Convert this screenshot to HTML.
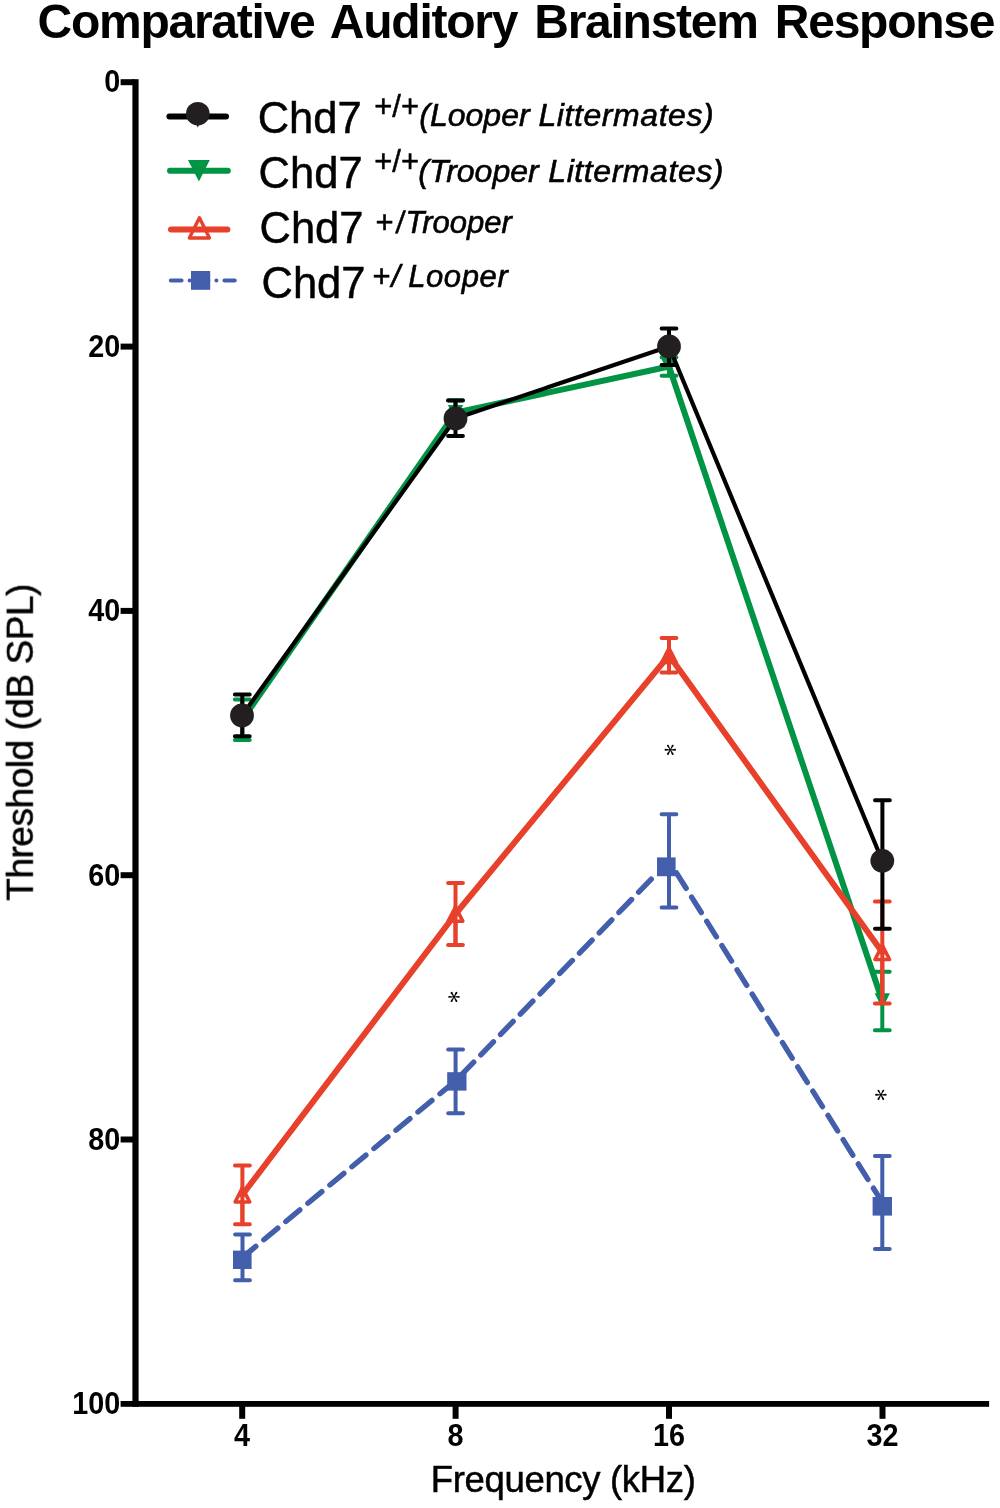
<!DOCTYPE html>
<html>
<head>
<meta charset="utf-8">
<title>Comparative Auditory Brainstem Response</title>
<style>
  html, body { margin: 0; padding: 0; background: #ffffff; }
  body { width: 1000px; height: 1508px; overflow: hidden; font-family: "Liberation Sans", sans-serif; }
  svg { display: block; position: absolute; left: 0; top: 0; }
  text { font-family: "Liberation Sans", sans-serif; fill: #000; }
  .b { font-weight: bold; }
  .i { font-style: italic; stroke: #000; stroke-width: 0.6px; }
  .r { stroke: #000; stroke-width: 0.5px; }
  .eb { fill: none; stroke-width: 4; stroke-linecap: round; }
</style>
</head>
<body>
<svg width="1000" height="1508" viewBox="0 0 1000 1508">
  <rect x="0" y="0" width="1000" height="1508" fill="#ffffff"/>
  <g opacity="0.999">

  <!-- Title -->
  <text class="b" x="37.5" y="37.6" font-size="48" letter-spacing="-1.25" word-spacing="5">Comparative Auditory Brainstem Response</text>

  <!-- Axes -->
  <g fill="#000">
    <rect x="132.4" y="79.2" width="6.2" height="1327.6"/>
    <rect x="120.6" y="1401" width="868.5" height="5.8"/>
    <!-- y ticks -->
    <rect x="120.6" y="79.2" width="14" height="6"/>
    <rect x="120.6" y="343.6" width="14" height="6"/>
    <rect x="120.6" y="607.9" width="14" height="6"/>
    <rect x="120.6" y="872.2" width="14" height="6"/>
    <rect x="120.6" y="1136.5" width="14" height="6"/>
    <!-- x ticks -->
    <rect x="239.2" y="1403" width="6" height="15.8"/>
    <rect x="452.6" y="1403" width="6" height="15.8"/>
    <rect x="666" y="1403" width="6" height="15.8"/>
    <rect x="879.5" y="1403" width="6" height="15.8"/>
  </g>

  <!-- Tick labels -->
  <g class="b" font-size="30.5" text-anchor="end">
    <text x="120.2" y="92.2" textLength="16.00" lengthAdjust="spacingAndGlyphs">0</text>
    <text x="120.2" y="356.9" textLength="32.00" lengthAdjust="spacingAndGlyphs">20</text>
    <text x="120.2" y="621.2" textLength="32.00" lengthAdjust="spacingAndGlyphs">40</text>
    <text x="120.2" y="885.5" textLength="32.00" lengthAdjust="spacingAndGlyphs">60</text>
    <text x="120.2" y="1149.8" textLength="32.00" lengthAdjust="spacingAndGlyphs">80</text>
    <text x="120.2" y="1414.1" textLength="48.00" lengthAdjust="spacingAndGlyphs">100</text>
  </g>
  <g class="b" font-size="30.5" text-anchor="middle">
    <text x="242" y="1445.8" textLength="16.00" lengthAdjust="spacingAndGlyphs">4</text>
    <text x="455.5" y="1445.8" textLength="16.00" lengthAdjust="spacingAndGlyphs">8</text>
    <text x="669" y="1445.8" textLength="32.00" lengthAdjust="spacingAndGlyphs">16</text>
    <text x="882.5" y="1445.8" textLength="32.00" lengthAdjust="spacingAndGlyphs">32</text>
  </g>

  <!-- Axis titles -->
  <text class="r" x="430.8" y="1492.3" font-size="36.5" letter-spacing="-0.34">Frequency (kHz)</text>
  <text class="r" transform="translate(32.8,900.7) rotate(-90)" font-size="37" letter-spacing="-0.46">Threshold (dB SPL)</text>

  <!-- ================= Series ================= -->
  <!-- Blue (dashed) -->
  <g stroke="#435eab" fill="#435eab">
    <g class="eb">
      <path d="M242.5 1234.6V1280.2M235.1 1234.6H249.9M235.1 1280.2H249.9"/>
      <path d="M455.6 1049.4V1113.2M448.2 1049.4H463M448.2 1113.2H463"/>
      <path d="M669 814.2V907.4M661.6 814.2H676.4M661.6 907.4H676.4"/>
      <path d="M882.3 1155.9V1249M874.9 1155.9H889.7M874.9 1249H889.7"/>
    </g>
    <g fill="none" stroke-width="5.4" stroke-linecap="round">
      <line x1="242.5" y1="1257.4" x2="455.6" y2="1080.8" stroke-dasharray="18.2 10.4" stroke-dashoffset="0.9"/>
      <line x1="455.6" y1="1080.8" x2="652.7" y2="877.7" stroke-dasharray="18.1 10.23" stroke-dashoffset="-7.9"/>
      <line x1="669" y1="860.9" x2="882.3" y2="1202.4" stroke-dasharray="18.2 10.4" stroke-dashoffset="-14.1"/>
    </g>
    <g stroke="none">
      <rect x="233" y="1250.6" width="18.6" height="18.4"/>
      <rect x="447.2" y="1072.2" width="19.3" height="18.4"/>
      <rect x="657" y="857.4" width="18.6" height="18.8"/>
      <rect x="872.6" y="1197" width="19.4" height="18.6"/>
    </g>
  </g>

  <!-- Green -->
  <g stroke="#009444" fill="#009444">
    <g class="eb">
      <path d="M242.3 699.5V740M234.9 699.5H249.7M234.9 740H249.7"/>
      <path d="M455.5 400.2V425.8M448.1 400.2H462.9M448.1 425.8H462.9"/>
      <path d="M669 357.3V375.7M661.6 357.3H676.4M661.6 375.7H676.4"/>
      <path d="M882.3 971.7V1030.3M874.9 971.7H889.7M874.9 1030.3H889.7"/>
    </g>
    <polyline points="242.3,719.75 455.5,412.65 669,366.5 882.3,1001" fill="none" stroke-width="6" stroke-linecap="round" stroke-linejoin="round"/>
    <g stroke="none">
      <path d="M234.65 712.1h15.3l-7.65 15.3z"/>
      <path d="M447.85 405h15.3l-7.65 15.3z"/>
      <path d="M661.35 358.85h15.3l-7.65 15.3z"/>
      <path d="M874.65 993.35h15.3l-7.65 15.3z"/>
    </g>
  </g>

  <!-- Red -->
  <g stroke="#e8412b" fill="none">
    <g class="eb">
      <path d="M242.4 1165.4V1224.2M235 1165.4H249.8M235 1224.2H249.8"/>
      <path d="M455.5 883V945M448.1 883H462.9M448.1 945H462.9"/>
      <path d="M669 638V672.6M661.6 638H676.4M661.6 672.6H676.4"/>
      <path d="M882.3 901.6V1003.4M874.9 901.6H889.7M874.9 1003.4H889.7"/>
    </g>
    <g stroke-width="3.6" stroke-linejoin="round" fill="#fff">
      <path d="M242.4 1187.90l7.3 14.1h-14.6z"/>
      <path d="M455.5 907.10l7.3 14.1h-14.6z"/>
      <path d="M669 648.40l7.3 14.1h-14.6z"/>
      <path d="M882.3 945.40l7.3 14.1h-14.6z"/>
    </g>
    <g class="eb">
      <path d="M242.4 1188V1224.2"/>
      <path d="M455.5 907.2V945"/>
      <path d="M669 648.5V672.6"/>
      <path d="M882.3 945.5V1003.4"/>
    </g>
    <polyline points="242.4,1194.8 455.5,914 669,655.3 882.3,952.3" stroke-width="6" stroke-linecap="round" stroke-linejoin="round"/>
  </g>

  <!-- Black -->
  <g stroke="#000" fill="#231f20">
    <g class="eb" stroke-width="4.2">
      <path d="M242.3 694.5V736.2M234.9 694.5H249.7M234.9 736.2H249.7"/>
      <path d="M455.5 400.5V436M448.1 400.5H462.9M448.1 436H462.9"/>
      <path d="M669 328.5V365M661.6 328.5H676.4M661.6 365H676.4"/>
      <path d="M882.4 800.2V928.8M875 800.2H889.8M875 928.8H889.8"/>
    </g>
    <polyline points="242,715.5 455.5,418.5 669,346.5 882.3,860.8" fill="none" stroke-width="4.2" stroke-linecap="round" stroke-linejoin="round"/>
    <g stroke="none">
      <circle cx="242" cy="715.5" r="11.9"/>
      <circle cx="455.5" cy="418.5" r="11.9"/>
      <circle cx="669" cy="346.5" r="11.9"/>
      <circle cx="882.3" cy="860.8" r="11.9"/>
    </g>
  </g>

  <!-- Asterisks -->
  <g fill="#000">
    <g transform="translate(454 996.9)"><path d="M0.5 -0.35L4.8 -0.95A0.95 0.95 0 0 1 4.8 0.95L0.5 0.35Z" transform="rotate(0)"/><path d="M0.5 -0.35L4.8 -0.95A0.95 0.95 0 0 1 4.8 0.95L0.5 0.35Z" transform="rotate(60)"/><path d="M0.5 -0.35L4.8 -0.95A0.95 0.95 0 0 1 4.8 0.95L0.5 0.35Z" transform="rotate(120)"/><path d="M0.5 -0.35L4.8 -0.95A0.95 0.95 0 0 1 4.8 0.95L0.5 0.35Z" transform="rotate(180)"/><path d="M0.5 -0.35L4.8 -0.95A0.95 0.95 0 0 1 4.8 0.95L0.5 0.35Z" transform="rotate(240)"/><path d="M0.5 -0.35L4.8 -0.95A0.95 0.95 0 0 1 4.8 0.95L0.5 0.35Z" transform="rotate(300)"/><circle r="1.15"/></g>
    <g transform="translate(670.3 749.8)"><path d="M0.5 -0.35L4.8 -0.95A0.95 0.95 0 0 1 4.8 0.95L0.5 0.35Z" transform="rotate(0)"/><path d="M0.5 -0.35L4.8 -0.95A0.95 0.95 0 0 1 4.8 0.95L0.5 0.35Z" transform="rotate(60)"/><path d="M0.5 -0.35L4.8 -0.95A0.95 0.95 0 0 1 4.8 0.95L0.5 0.35Z" transform="rotate(120)"/><path d="M0.5 -0.35L4.8 -0.95A0.95 0.95 0 0 1 4.8 0.95L0.5 0.35Z" transform="rotate(180)"/><path d="M0.5 -0.35L4.8 -0.95A0.95 0.95 0 0 1 4.8 0.95L0.5 0.35Z" transform="rotate(240)"/><path d="M0.5 -0.35L4.8 -0.95A0.95 0.95 0 0 1 4.8 0.95L0.5 0.35Z" transform="rotate(300)"/><circle r="1.15"/></g>
    <g transform="translate(880.85 1094.8)"><path d="M0.5 -0.35L4.8 -0.95A0.95 0.95 0 0 1 4.8 0.95L0.5 0.35Z" transform="rotate(0)"/><path d="M0.5 -0.35L4.8 -0.95A0.95 0.95 0 0 1 4.8 0.95L0.5 0.35Z" transform="rotate(60)"/><path d="M0.5 -0.35L4.8 -0.95A0.95 0.95 0 0 1 4.8 0.95L0.5 0.35Z" transform="rotate(120)"/><path d="M0.5 -0.35L4.8 -0.95A0.95 0.95 0 0 1 4.8 0.95L0.5 0.35Z" transform="rotate(180)"/><path d="M0.5 -0.35L4.8 -0.95A0.95 0.95 0 0 1 4.8 0.95L0.5 0.35Z" transform="rotate(240)"/><path d="M0.5 -0.35L4.8 -0.95A0.95 0.95 0 0 1 4.8 0.95L0.5 0.35Z" transform="rotate(300)"/><circle r="1.15"/></g>
  </g>

  <!-- ================= Legend ================= -->
  <!-- row 1 -->
  <line x1="169.4" y1="116.6" x2="226" y2="116.6" stroke="#000" stroke-width="6" stroke-linecap="round"/>
  <circle cx="197.8" cy="113.7" r="11.8" fill="#231f20"/>
  <path d="M196.6 125l1.2 2.4 1.2-2.4z" fill="#231f20"/>
  <!-- row 2 -->
  <line x1="170" y1="170.8" x2="227.8" y2="170.8" stroke="#009444" stroke-width="6" stroke-linecap="round"/>
  <path d="M188 160h21.8l-10.9 21.6z" fill="#009444"/>
  <!-- row 3 -->
  <path d="M199.4 217.75l10.05 20.3h-20.1z" fill="#fff" stroke="#e8412b" stroke-width="3.4" stroke-linejoin="round"/>
  <line x1="171" y1="229.4" x2="227.4" y2="229.4" stroke="#e8412b" stroke-width="6" stroke-linecap="round"/>
  <!-- row 4 -->
  <line x1="170.8" y1="280.6" x2="234.8" y2="280.6" stroke="#435eab" stroke-width="4" stroke-linecap="round" stroke-dasharray="10.8 8 0.01 8"/>
  <rect x="191" y="271" width="19.2" height="18.8" fill="#435eab"/>

  <!-- legend text -->
  <text class="r" x="257.7" y="132.8" font-size="43.5">Chd7</text>
  <text class="r" x="374.2" y="116.8" font-size="31">+/+</text>
  <text class="i" x="419.3" y="126" font-size="32">(Looper <tspan letter-spacing="0.57">Littermates)</tspan></text>

  <text class="r" x="258.6" y="187.7" font-size="43.5">Chd7</text>
  <text class="r" x="374.2" y="171.8" font-size="31">+/+</text>
  <text class="i" x="418.3" y="181.6" font-size="32">(Trooper <tspan letter-spacing="0.57" dx="0.8">Littermates)</tspan></text>

  <text class="r" x="259.5" y="243.2" font-size="43.5">Chd7</text>
  <text class="r" x="375.4" y="233" font-size="31">+</text>
  <text class="r" x="395.2" y="233" font-size="31" transform="translate(395.2 233) skewX(-5) translate(-395.2 -233)">/</text>
  <text class="i" x="405.5" y="232.8" font-size="31">Trooper</text>

  <text class="r" x="261.5" y="298.2" font-size="43.5">Chd7</text>
  <text class="r" x="372.6" y="286.6" font-size="31">+</text>
  <text class="i" x="391.6" y="286.8" font-size="31">/</text>
  <text class="i" x="408.2" y="287" font-size="31" letter-spacing="0.6">Looper</text>
  </g>
</svg>
</body>
</html>
